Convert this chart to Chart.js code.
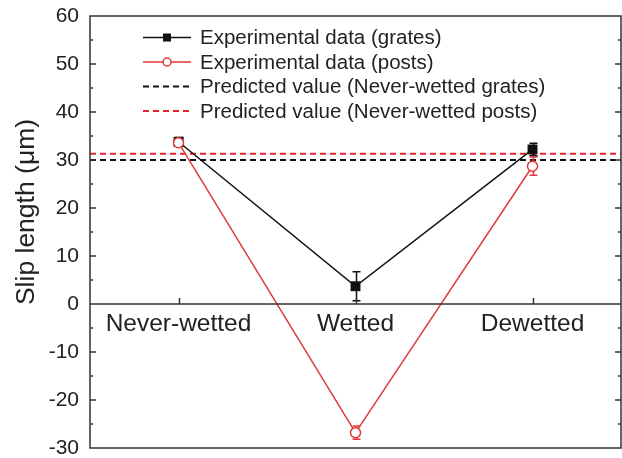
<!DOCTYPE html>
<html>
<head>
<meta charset="utf-8">
<script src="https://cdn.jsdelivr.net/npm/chart.js@4.4.1/dist/chart.umd.min.js"></script>
<style>
  html, body { margin: 0; padding: 0; background: #fff; }
  #wrap { width: 622px; height: 458px; }
</style>
</head>
<body>
<div id="wrap"><canvas id="chart" width="622" height="458"></canvas></div>
<script>
const categories = ["Never-wetted", "Wetted", "Dewetted"];
const gratesValues = [33.8, 3.7, 32.2];
const gratesErrors = [0.9, 3.0, 1.3];
const postsValues = [33.6, -26.8, 28.7];
const postsErrors = [0.8, 1.4, 1.9];
const predictedGrates = 30.0;
const predictedPosts = 31.3;
const minorTicks = [-25, -15, -5, 5, 15, 25, 35, 45, 55];
const majorTicks = [-20, -10, 10, 20, 30, 40, 50];
const yTitle = "Slip length (\u03bcm)";
const legendLabels = [
  "Experimental data (grates)",
  "Experimental data (posts)",
  "Predicted value (Never-wetted grates)",
  "Predicted value (Never-wetted posts)"
];

const BLACK = "#111";
const RED = "#e03a3a";
const RED_DASH = "#e8242a";
const AXIS = "#333";
const TEXT = "#222";
const FONT = "'Liberation Sans', Arial, sans-serif";

function errorBars(ctx, x, y, values, errors, color) {
  ctx.strokeStyle = color;
  ctx.lineWidth = 1.5;
  values.forEach((v, i) => {
    const px = Math.round(x.getPixelForValue(i)) + 0.5;
    const top = y.getPixelForValue(v + errors[i]);
    const bot = y.getPixelForValue(v - errors[i]);
    ctx.beginPath();
    ctx.moveTo(px, top); ctx.lineTo(px, bot);
    ctx.moveTo(px - 4, top); ctx.lineTo(px + 4, top);
    ctx.moveTo(px - 4, bot); ctx.lineTo(px + 4, bot);
    ctx.stroke();
  });
}

const framePlugin = {
  id: "frame",
  beforeDatasetsDraw(chart) {
    const { ctx, chartArea: a, scales: { x, y } } = chart;
    ctx.save();
    // predicted values
    [[predictedGrates, BLACK], [predictedPosts, RED_DASH]].forEach(([v, c]) => {
      const py = y.getPixelForValue(v);
      ctx.strokeStyle = c;
      ctx.lineWidth = 2;
      ctx.setLineDash([6, 4]);
      ctx.beginPath();
      ctx.moveTo(a.left, py);
      ctx.lineTo(a.right, py);
      ctx.stroke();
    });
    ctx.setLineDash([]);
    errorBars(ctx, x, y, gratesValues, gratesErrors, BLACK);
    errorBars(ctx, x, y, postsValues, postsErrors, RED);
    ctx.restore();
  },
  afterDraw(chart) {
    const { ctx, chartArea: a, scales: { x, y } } = chart;
    ctx.save();
    ctx.strokeStyle = AXIS;
    ctx.lineWidth = 1.5;
    ctx.strokeRect(a.left, a.top, a.right - a.left, a.bottom - a.top);

    const zero = y.getPixelForValue(0);
    ctx.beginPath();
    ctx.moveTo(a.left, zero); ctx.lineTo(a.right, zero);
    // y ticks on both sides, pointing in
    majorTicks.concat([0]).forEach((v) => {
      const py = y.getPixelForValue(v);
      ctx.moveTo(a.left, py); ctx.lineTo(a.left + 6, py);
      ctx.moveTo(a.right, py); ctx.lineTo(a.right - 6, py);
    });
    minorTicks.forEach((v) => {
      const py = y.getPixelForValue(v);
      ctx.moveTo(a.left, py); ctx.lineTo(a.left + 3, py);
      ctx.moveTo(a.right, py); ctx.lineTo(a.right - 3, py);
    });
    // category ticks on the zero line
    categories.forEach((c, i) => {
      const px = Math.round(x.getPixelForValue(i)) + 0.5;
      ctx.moveTo(px, zero); ctx.lineTo(px, zero - 6);
    });
    ctx.stroke();

    // y title
    ctx.fillStyle = TEXT;
    ctx.font = "26.5px " + FONT;
    ctx.textAlign = "center";
    ctx.textBaseline = "middle";
    ctx.translate(27, 212);
    ctx.rotate(-Math.PI / 2);
    ctx.fillText(yTitle, 0, 0);
    ctx.setTransform(1, 0, 0, 1, 0, 0);

    // legend
    ctx.font = "20.5px " + FONT;
    ctx.textAlign = "left";
    legendLabels.forEach((label, i) => {
      const ly = 37.5 + i * 24.5;
      const x0 = 143, x1 = 191, xm = 167;
      if (i < 2) {
        const c = i === 0 ? BLACK : RED;
        ctx.strokeStyle = c;
        ctx.lineWidth = 1.5;
        ctx.setLineDash([]);
        ctx.beginPath(); ctx.moveTo(x0, ly); ctx.lineTo(x1, ly); ctx.stroke();
        if (i === 0) {
          ctx.fillStyle = BLACK;
          ctx.fillRect(xm - 4, ly - 4, 8, 8);
        } else {
          ctx.fillStyle = "#fff";
          ctx.beginPath(); ctx.arc(xm, ly, 4, 0, Math.PI * 2); ctx.fill(); ctx.stroke();
        }
      } else {
        ctx.strokeStyle = i === 2 ? BLACK : RED_DASH;
        ctx.lineWidth = 2;
        ctx.setLineDash([6, 4]);
        ctx.beginPath(); ctx.moveTo(x0, ly); ctx.lineTo(x1, ly); ctx.stroke();
        ctx.setLineDash([]);
      }
      ctx.fillStyle = TEXT;
      ctx.fillText(label, 200, ly + 1);
    });
    ctx.restore();
  }
};

new Chart(document.getElementById("chart"), {
  type: "line",
  data: {
    labels: categories,
    datasets: [
      {
        label: legendLabels[0],
        data: gratesValues,
        borderColor: BLACK,
        backgroundColor: BLACK,
        borderWidth: 1.5,
        pointStyle: "rect",
        pointRadius: 7,
        pointBorderWidth: 0,
        tension: 0,
        clip: false,
        order: 2
      },
      {
        label: legendLabels[1],
        data: postsValues,
        borderColor: RED,
        backgroundColor: "#fff",
        borderWidth: 1.5,
        pointStyle: "circle",
        pointRadius: 5,
        pointBorderWidth: 1.5,
        tension: 0,
        clip: false,
        order: 1
      }
    ]
  },
  options: {
    responsive: false,
    animation: false,
    layout: { autoPadding: false, padding: { top: 16, bottom: 10, right: 1, left: 0 } },
    plugins: { legend: { display: false }, tooltip: { enabled: false } },
    scales: {
      x: {
        type: "category",
        offset: true,
        position: { y: 0 },
        grid: { display: false, drawTicks: false },
        border: { display: false },
        afterFit(scale) { scale.height = 0; },
        ticks: {
          color: TEXT,
          padding: 6,
          maxRotation: 0,
          font: { family: FONT, size: 24.5 }
        }
      },
      y: {
        min: -30,
        max: 60,
        grid: { display: false, drawTicks: true, tickLength: 11 },
        border: { display: false },
        afterFit(scale) { scale.width = 90; },
        ticks: {
          stepSize: 10,
          color: TEXT,
          padding: 0,
          font: { family: FONT, size: 21, lineHeight: 0.9 }
        }
      }
    }
  },
  plugins: [framePlugin]
});
</script>
</body>
</html>
